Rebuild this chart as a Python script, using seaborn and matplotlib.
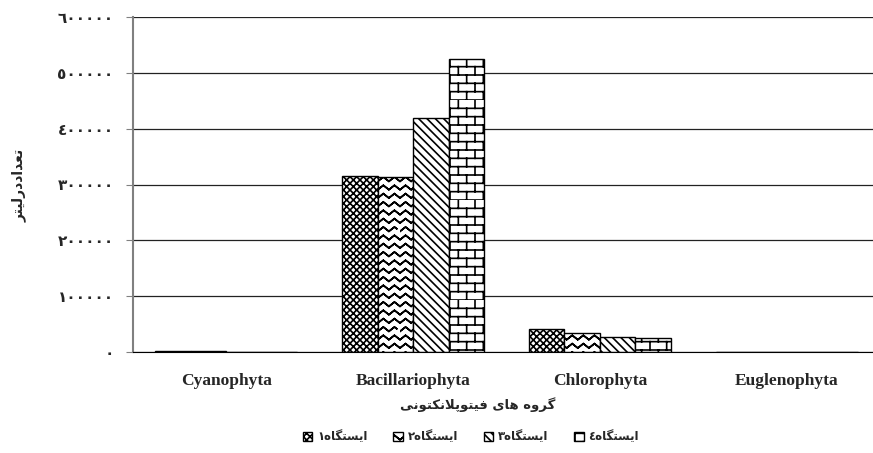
import numpy as np
import pandas as pd
import seaborn as sns
import matplotlib
matplotlib.use("Agg")
import matplotlib.pyplot as plt
from matplotlib import hatch as mhatch
from matplotlib.path import Path
from matplotlib.patches import Patch

# data
groups = ["Cyanophyta", "Bacillariophyta", "Chlorophyta", "Euglenophyta"]
stations = ["ایستگاه١", "ایستگاه٢", "ایستگاه٣", "ایستگاه٤"]
station1 = [2000, 316000, 42000, 0]
station2 = [2000, 314000, 33500, 0]
station3 = [0, 419000, 27500, 0]
station4 = [0, 525000, 24500, 0]
yticks = [0, 100000, 200000, 300000, 400000, 500000, 600000]
xlabel = "گروه های فیتوپلانکتونی"
ylabel = "تعداددرلیتر"

# --- minimal arabic shaping (matplotlib has no bidi / joining) ---
FORMS = {
    'ا': ('\uFE8D', '\uFE8E', None, None),
    'د': ('\uFEA9', '\uFEAA', None, None),
    'ر': ('\uFEAD', '\uFEAE', None, None),
    'و': ('\uFEED', '\uFEEE', None, None),
    '\uFEFB': ('\uFEFB', '\uFEFC', None, None),  # lam-alef
    'پ': ('\uFB56', '\uFB57', '\uFB58', '\uFB59'),
    'ت': ('\uFE95', '\uFE96', '\uFE97', '\uFE98'),
    'س': ('\uFEB1', '\uFEB2', '\uFEB3', '\uFEB4'),
    'ع': ('\uFEC9', '\uFECA', '\uFECB', '\uFECC'),
    'ف': ('\uFED1', '\uFED2', '\uFED3', '\uFED4'),
    'ک': ('\uFB8E', '\uFB8F', '\uFB90', '\uFB91'),
    'گ': ('\uFB92', '\uFB93', '\uFB94', '\uFB95'),
    'ل': ('\uFEDD', '\uFEDE', '\uFEDF', '\uFEE0'),
    'ن': ('\uFEE5', '\uFEE6', '\uFEE7', '\uFEE8'),
    'ه': ('\uFEE9', '\uFEEA', '\uFEEB', '\uFEEC'),
    'ی': ('\uFBFC', '\uFBFD', '\uFBFE', '\uFBFF'),
}


def shape(text):
    chars = list(text.replace('لا', '\uFEFB'))
    out = []
    for i, c in enumerate(chars):
        if c not in FORMS:
            out.append(c)
            continue
        prev = chars[i - 1] if i > 0 else None
        nxt = chars[i + 1] if i + 1 < len(chars) else None
        jp = prev in FORMS and FORMS[prev][2] is not None
        jn = FORMS[c][2] is not None and nxt in FORMS
        iso, fin, ini, med = FORMS[c]
        out.append(med if jp and jn else fin if jp else ini if jn else iso)
    return ''.join(reversed(out))


def arabic_digits(n):
    return str(n).translate(str.maketrans("0123456789", "٠١٢٣٤٥٦٧٨٩"))


# --- extra hatch patterns: zigzag waves ('w') and bricks ('b') ---
class WaveHatch(mhatch.HatchPatternBase):
    def __init__(self, hatch, density):
        self.rows = hatch.count('w') * 6
        self.segs = 18
        # each row goes forward and back so the hatch fill has no area
        self.num_vertices = self.rows * (2 * self.segs + 1)

    def set_vertices_and_codes(self, vertices, codes):
        k = 0
        for r in range(self.rows):
            y0 = (r + 0.5) / self.rows
            pts = [(s / self.segs, y0 + (0.022 if s % 2 else -0.022))
                   for s in range(self.segs + 1)]
            pts = pts + pts[-2::-1]
            for j, p in enumerate(pts):
                vertices[k] = p
                codes[k] = Path.MOVETO if j == 0 else Path.LINETO
                k += 1


class BrickHatch(mhatch.HatchPatternBase):
    def __init__(self, hatch, density):
        self.rows = 12 if 'b' in hatch else 0
        self.cols = 6
        self.num_vertices = self.rows * 2 + self.rows * self.cols * 2

    def set_vertices_and_codes(self, vertices, codes):
        k = 0
        h = 1.0 / self.rows
        for r in range(self.rows):
            vertices[k] = (0, r * h)
            vertices[k + 1] = (1, r * h)
            codes[k], codes[k + 1] = Path.MOVETO, Path.LINETO
            k += 2
            off = 0.5 / self.cols if r % 2 else 0.0
            for c in range(self.cols):
                x = c / self.cols + off
                vertices[k] = (x, r * h)
                vertices[k + 1] = (x, (r + 1) * h)
                codes[k], codes[k + 1] = Path.MOVETO, Path.LINETO
                k += 2


mhatch._hatch_types.extend([WaveHatch, BrickHatch])

df = pd.DataFrame({
    "group": np.repeat(groups, 4),
    "station": stations * 4,
    "count": np.ravel(np.column_stack([station1, station2, station3, station4])),
})

sns.set_style("white")
plt.rcParams["hatch.linewidth"] = 1.2
plt.rcParams["hatch.color"] = "black"

fig = plt.figure(figsize=(8.73, 4.53), dpi=100)
ax = fig.add_axes([133 / 873, 101 / 453, 747 / 873, 335 / 453])

sns.barplot(data=df, x="group", y="count", hue="station", palette=["white"] * 4,
            edgecolor="black", linewidth=1, width=0.76, gap=0, saturation=1,
            legend=False, ax=ax)

hatches = ["xxxxx", "ww", "\\\\\\\\", "b"]
for cont, h in zip(ax.containers, hatches):
    for bar in cont:
        bar.set_hatch(h)

ax.set_ylim(0, 600000)
ax.set_xlim(-0.5, 3.5)
ax.set_yticks(yticks)
ax.set_yticklabels([arabic_digits(v) for v in yticks], fontfamily="DejaVu Sans",
                   fontweight="bold", fontsize=11)
ax.yaxis.grid(True, color="#222222", lw=0.9)
ax.set_axisbelow(True)
ax.set_xlabel("")
ax.set_ylabel("")
ax.set_xticks(range(len(groups)))
ax.set_xticklabels(groups, fontfamily="Liberation Serif", fontweight="bold", fontsize=12.5)
ax.set_xticks([-0.5, 0.5, 1.5, 2.5, 3.5], minor=True)
ax.tick_params(axis="x", which="major", length=0, pad=15)
ax.tick_params(axis="x", which="minor", length=5, direction="out", color="#444444")
ax.tick_params(axis="y", length=5, direction="out", color="#808080", left=True, pad=9)
sns.despine(ax=ax, top=True, right=True)
ax.spines["left"].set_color("#808080")
ax.spines["left"].set_linewidth(1.5)
ax.spines["bottom"].set_color("black")

fig.text(19 / 873, 1 - 185 / 453, shape(ylabel), rotation=90, ha="center", va="center",
         fontfamily="DejaVu Sans", fontweight="bold", fontsize=10)
fig.text(478 / 873, 1 - 405 / 453, shape(xlabel), ha="center", va="center",
         fontfamily="DejaVu Sans", fontweight="bold", fontsize=9.5)

handles = [Patch(facecolor="white", edgecolor="black", hatch=h) for h in hatches]
fig.legend(handles, [shape(s) for s in stations], loc="center",
           bbox_to_anchor=(471 / 873, 1 - 437 / 453), ncol=4, frameon=False,
           handlelength=0.8, handleheight=0.8, handletextpad=0.4, columnspacing=2.2,
           prop={"family": "DejaVu Sans", "weight": "bold", "size": 8.5})

fig.savefig("out.png", dpi=100)
